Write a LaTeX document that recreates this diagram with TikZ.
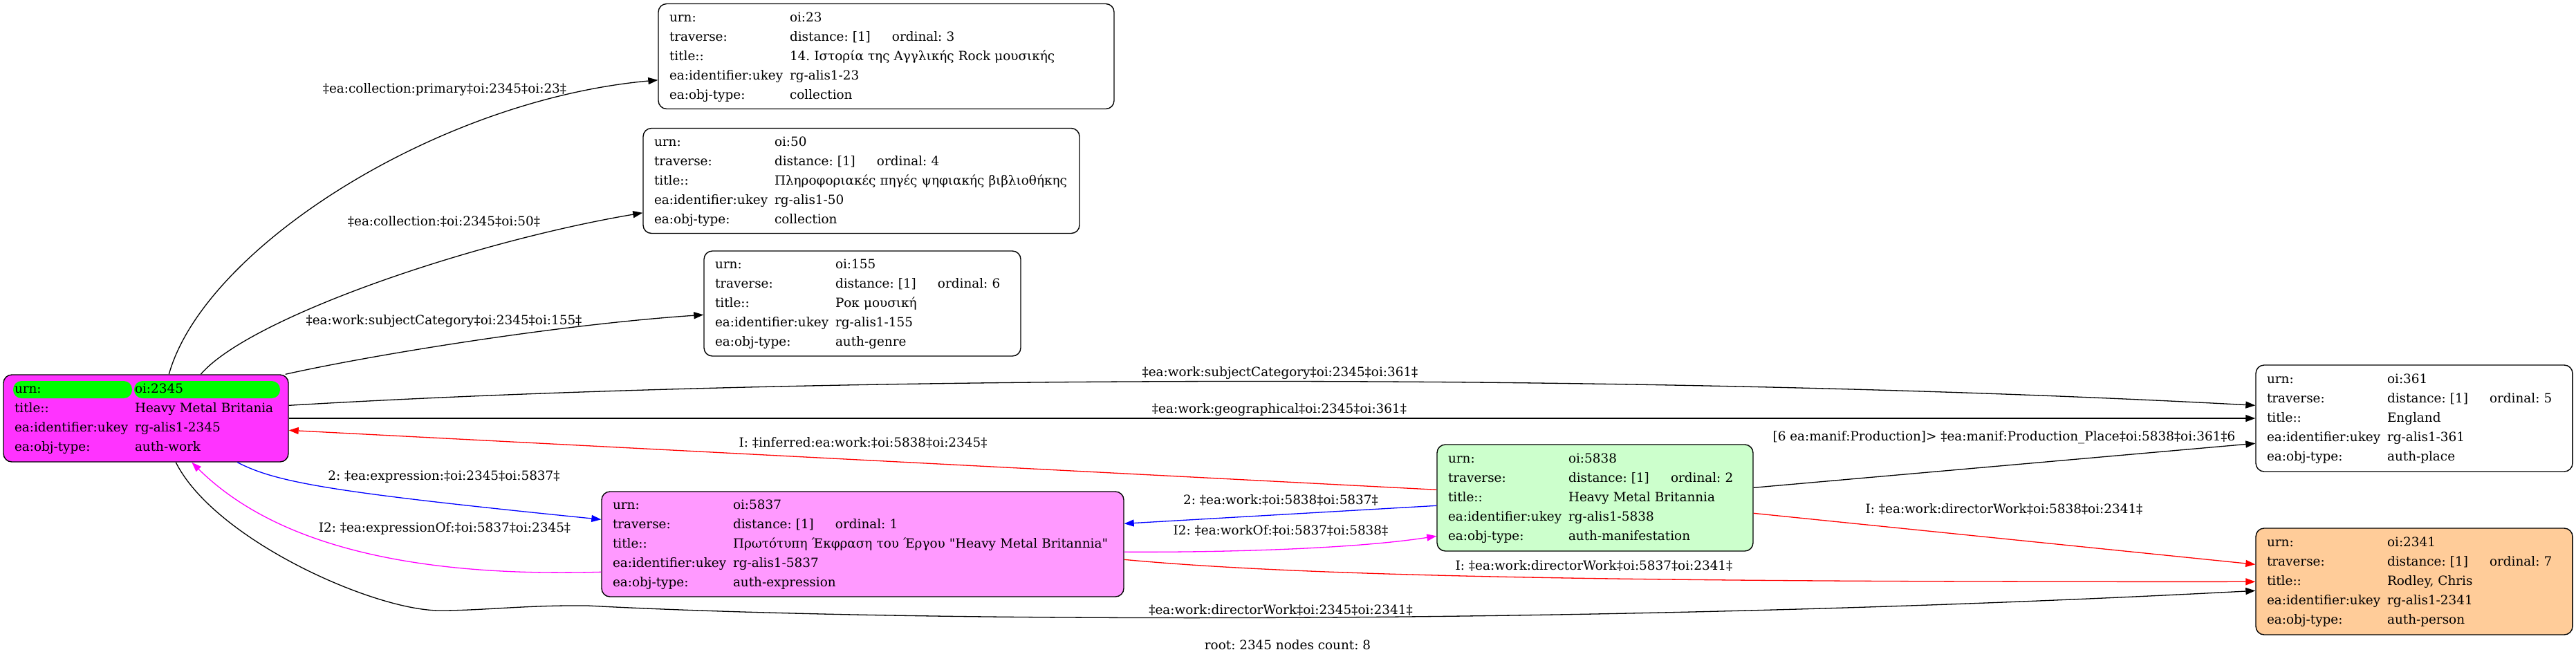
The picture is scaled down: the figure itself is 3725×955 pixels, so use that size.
\documentclass[tikz,border=0pt]{standalone}
\usepackage{fontspec}
\setmainfont{DejaVu Serif}[Ligatures=TeXOff]
\usetikzlibrary{arrows.meta,calc}
\frenchspacing
\definecolor{rootfill}{HTML}{FF33FF}
\definecolor{exprfill}{HTML}{FF99FF}
\definecolor{manfill}{HTML}{CCFFCC}
\definecolor{persfill}{HTML}{FFCC99}
\definecolor{cellgreen}{HTML}{00FF00}
\definecolor{edgeblue}{HTML}{0000FF}
\definecolor{edgered}{HTML}{FF0000}
\definecolor{edgemag}{HTML}{FF00FF}
\newenvironment{rtab}{\begin{tabular}{@{}p{87pt}@{}l@{}}}{\end{tabular}}
\newcommand\travrow[1]{\makebox[74pt][l]{distance: [1]}ordinal: #1}
\tikzset{
  rec/.style={draw, line width=0.7pt, rounded corners=6pt, inner xsep=8pt, inner ysep=0pt,
    align=left, font=\fontsize{9.2}{14}\selectfont},
  lbl/.style={font=\fontsize{9.2}{14}\selectfont, inner sep=0pt},
  edge/.style={line width=0.65pt, -{Triangle[length=7pt,width=5pt]}},
}
\begin{document}
\begin{tikzpicture}[x=0.5pt,y=-0.5pt]
\useasboundingbox (0,0) rectangle (3725,955);

% ---- nodes ----
\node[rec, text width=313.5pt, minimum height=76pt] (n23) at (1281.5,81.5) {\begin{rtab}
urn: & oi:23\\
traverse: & \travrow{3}\\
title:: & 14. Ιστορία της Αγγλικής Rock μουσικής\\
ea:identifier:ukey & rg-alis1-23\\
ea:obj-type: & collection
\end{rtab}};

\node[rec, text width=299.5pt, minimum height=76pt] (n50) at (1245.5,261.5) {\begin{rtab}
urn: & oi:50\\
traverse: & \travrow{4}\\
title:: & Πληροφοριακές πηγές ψηφιακής βιβλιοθήκης\\
ea:identifier:ukey & rg-alis1-50\\
ea:obj-type: & collection
\end{rtab}};

\node[rec, text width=213pt, minimum height=76pt] (n155) at (1247,439) {\begin{rtab}
urn: & oi:155\\
traverse: & \travrow{6}\\
title:: & Ροκ μουσική\\
ea:identifier:ukey & rg-alis1-155\\
ea:obj-type: & auth-genre
\end{rtab}};

\node[rec, fill=rootfill, text width=190pt, minimum height=63pt,
  path picture={
    \fill[cellgreen] ($(path picture bounding box.north west)+(14,9)$) rectangle ++(172,25);
    \fill[cellgreen] ($(path picture bounding box.north west)+(189,9)$) rectangle ++(211,25);
  }] (root) at (211,605) {\begin{rtab}
urn: & oi:2345\\
title:: & Heavy Metal Britania\\
ea:identifier:ukey & rg-alis1-2345\\
ea:obj-type: & auth-work
\end{rtab}};

\node[rec, fill=exprfill, text width=361.5pt, minimum height=76pt] (n5837) at (1247.5,787) {\begin{rtab}
urn: & oi:5837\\
traverse: & \travrow{1}\\
title:: & Πρωτότυπη Έκφραση του Έργου "Heavy Metal Britannia"\\
ea:identifier:ukey & rg-alis1-5837\\
ea:obj-type: & auth-expression
\end{rtab}};

\node[rec, fill=manfill, text width=212.5pt, minimum height=77pt] (n5838) at (2306.5,720) {\begin{rtab}
urn: & oi:5838\\
traverse: & \travrow{2}\\
title:: & Heavy Metal Britannia\\
ea:identifier:ukey & rg-alis1-5838\\
ea:obj-type: & auth-manifestation
\end{rtab}};

\node[rec, text width=213pt, minimum height=77pt] (n361) at (3491,605) {\begin{rtab}
urn: & oi:361\\
traverse: & \travrow{5}\\
title:: & England\\
ea:identifier:ukey & rg-alis1-361\\
ea:obj-type: & auth-place
\end{rtab}};

\node[rec, fill=persfill, text width=213pt, minimum height=77pt] (n2341) at (3491,841) {\begin{rtab}
urn: & oi:2341\\
traverse: & \travrow{7}\\
title:: & Rodley, Chris\\
ea:identifier:ukey & rg-alis1-2341\\
ea:obj-type: & auth-person
\end{rtab}};

% ---- edges ----
\draw[edge] ($(root.north west)+(240,0)$) .. controls (295,360) and (630,145) .. ($(n23.north west)+(0,111)$);
\draw[edge] ($(root.north west)+(286,0)$) .. controls (360,460) and (680,350) .. ($(n50.north west)+(0,123)$);
\draw[edge] ($(root.north east)+(-5,0)$) .. controls (530,515) and (800,470) .. ($(n155.north west)+(0,93)$);
\draw[edge] ($(root.north east)+(0,45)$) .. controls (1200,540) and (2400,540) .. ($(n361.north west)+(0,59)$);
\draw[edge] (root.east) -- (n361.west);
\draw[edge, edgered] ($(n5838.north west)+(0,66)$) -- ($(root.north east)+(0,81)$);
\draw[edge, edgeblue] ($(root.south west)+(339,0)$) .. controls (400,698) and (480,712) .. ($(n5837.north west)+(0,41)$);
\draw[edge, edgemag] ($(n5837.north west)+(0,117)$) .. controls (600,835) and (400,790) .. ($(root.south west)+(273,0)$);
\draw[edge] ($(root.south west)+(250,0)$) .. controls (310,780) and (540,883) .. (636,883)
  .. controls (700,883) and (760,875) .. (850,876)
  .. controls (1300,900) and (2300,905) .. ($(n2341.north west)+(0,91)$);
\draw[edge, edgeblue] ($(n5838.north west)+(0,89)$) -- ($(n5837.north east)+(0,47)$);
\draw[edge, edgemag] ($(n5837.north east)+(0,88)$) .. controls (1750,799) and (1950,795) .. ($(n5838.north west)+(0,133)$);
\draw[edge] ($(n5838.north east)+(0,63)$) -- ($(n361.north west)+(0,114)$);
\draw[edge, edgered] ($(n5838.north east)+(0,100)$) -- ($(n2341.north west)+(0,53)$);
\draw[edge, edgered] ($(n5837.north east)+(0,99)$) .. controls (1900,835) and (2400,842) .. ($(n2341.north west)+(0,78)$);

% ---- labels ----
\node[lbl] (l1) at (643,130) {‡ea:collection:primary‡oi:2345‡oi:23‡};
\node[lbl] (l2) at (642,320) {‡ea:collection:‡oi:2345‡oi:50‡};
\node[lbl] (l3) at (642,465) {‡ea:work:subjectCategory‡oi:2345‡oi:155‡};
\node[lbl] (l4) at (1851,540) {‡ea:work:subjectCategory‡oi:2345‡oi:361‡};
\node[lbl] (l5) at (1850,593) {‡ea:work:geographical‡oi:2345‡oi:361‡};
\node[lbl] (l6) at (1248,640) {I: ‡inferred:ea:work:‡oi:5838‡oi:2345‡};
\node[lbl] (l7) at (642,690) {2: ‡ea:expression:‡oi:2345‡oi:5837‡};
\node[lbl] (l8) at (643,764) {I2: ‡ea:expressionOf:‡oi:5837‡oi:2345‡};
\node[lbl] (l9) at (1852,882) {‡ea:work:directorWork‡oi:2345‡oi:2341‡};
\node[lbl] (l10) at (1852,723) {2: ‡ea:work:‡oi:5838‡oi:5837‡};
\node[lbl] (l11) at (1852,767) {I2: ‡ea:workOf:‡oi:5837‡oi:5838‡};
\node[lbl] (l12) at (2898,633) {[6 ea:manif:Production]> ‡ea:manif:Production\_Place‡oi:5838‡oi:361‡6};
\node[lbl] (l13) at (2898,736) {I: ‡ea:work:directorWork‡oi:5838‡oi:2341‡};
\node[lbl] (l14) at (2305,818) {I: ‡ea:work:directorWork‡oi:5837‡oi:2341‡};
\node[lbl] (foot) at (1862,933) {root: 2345 nodes count: 8};
\end{tikzpicture}
\end{document}
